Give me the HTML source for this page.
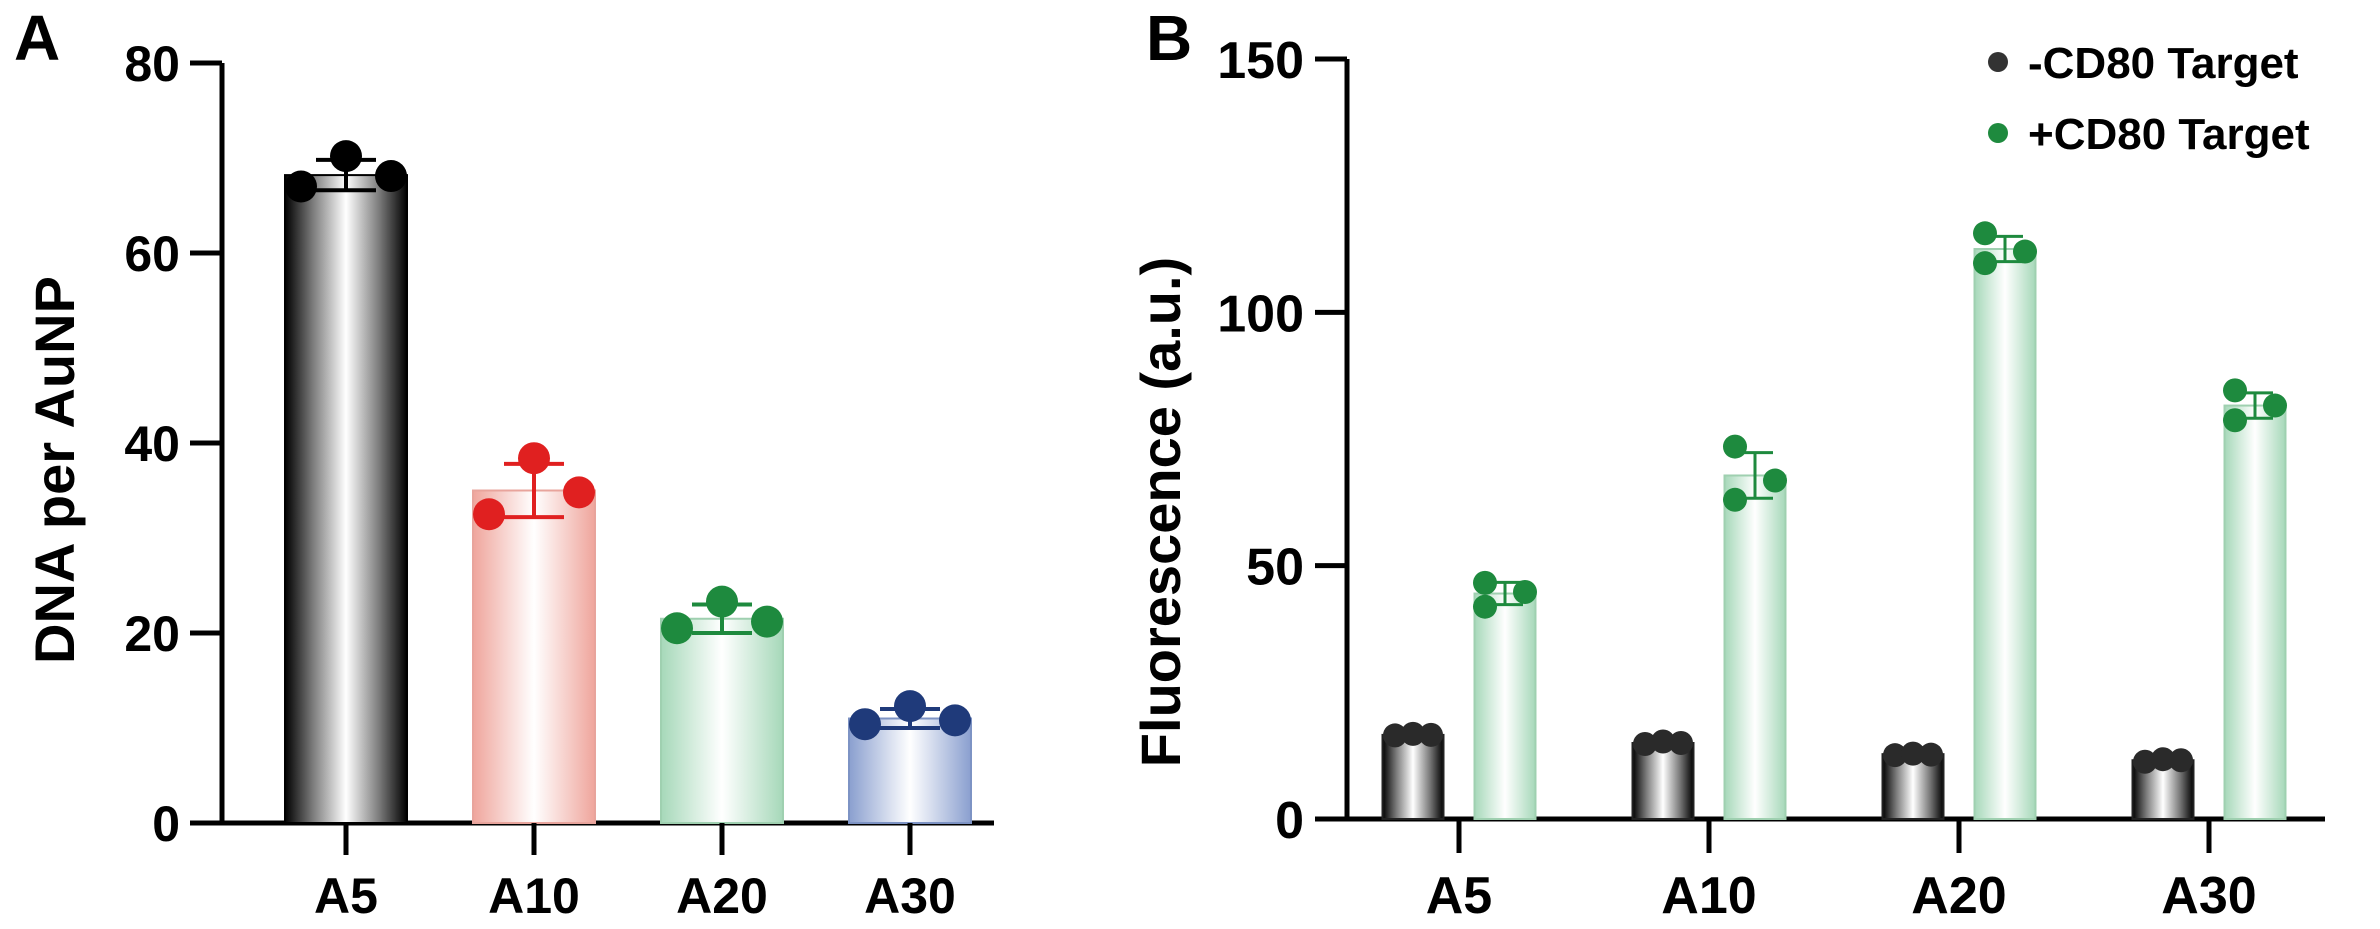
<!DOCTYPE html>
<html><head><meta charset="utf-8"><style>
html,body{margin:0;padding:0;background:#fff;}
svg{display:block;font-family:"Liberation Sans",Arial,sans-serif;font-weight:bold;}
</style></head><body>
<svg id="fig" width="2380" height="929" viewBox="0 0 2380 929" xmlns="http://www.w3.org/2000/svg">
<defs>
<linearGradient id="gBlack" x1="0" x2="1" y1="0" y2="0"><stop offset="0" stop-color="#000"/><stop offset="0.22" stop-color="#777"/><stop offset="0.5" stop-color="#fff"/><stop offset="0.78" stop-color="#777"/><stop offset="1" stop-color="#000"/></linearGradient>
<linearGradient id="gRed" x1="0" x2="1"><stop offset="0" stop-color="#efa59c"/><stop offset="0.5" stop-color="#fff"/><stop offset="1" stop-color="#efa59c"/></linearGradient>
<linearGradient id="gGreen" x1="0" x2="1"><stop offset="0" stop-color="#a6d8b9"/><stop offset="0.5" stop-color="#fff"/><stop offset="1" stop-color="#a6d8b9"/></linearGradient>
<linearGradient id="gBlue" x1="0" x2="1"><stop offset="0" stop-color="#8a9fcf"/><stop offset="0.5" stop-color="#fff"/><stop offset="1" stop-color="#8a9fcf"/></linearGradient>
</defs>
<text x="14" y="60" font-size="64">A</text>
<text x="1146" y="60" font-size="64">B</text>
<text transform="translate(74,470) rotate(-90)" text-anchor="middle" font-size="56">DNA per AuNP</text>
<text transform="translate(1180,512) rotate(-90)" text-anchor="middle" font-size="56">Fluorescence (a.u.)</text>
<g id="A"></g><g id="B"></g>
<g>
<circle cx="1998" cy="62" r="10" fill="#333"/>
<text x="2028" y="78" font-size="44">-CD80 Target</text>
<circle cx="1998" cy="133" r="10" fill="#1e8a3e"/>
<text x="2028" y="149" font-size="44">+CD80 Target</text>
</g>
</svg>
<script>
const catsA = ["A5","A10","A20","A30"];
const meansA = [68.2, 35, 21.5, 11];
const sdA = [1.6, 2.8, 1.5, 1.0];
const ptsA = [[67,70.2,68.1],[32.5,38.4,34.8],[20.5,23.3,21.2],[10.4,12.3,10.8]];
const ticksA = [0,20,40,60,80];
const catsB = ["A5","A10","A20","A30"];
const meansNeg = [16.6, 15, 12.8, 11.6];
const ptsNeg = [[16.5,16.8,16.6],[14.8,15.3,15],[12.6,12.9,12.7],[11.3,11.8,11.6]];
const meansPos = [44.5, 67.8, 112.5, 81.6];
const sdPos = [2.2, 4.5, 2.5, 2.5];
const ptsPos = [[46.6,41.9,44.8],[73.5,63,66.8],[115.6,109.7,112],[84.6,78.7,81.6]];
const ticksB = [0,50,100,150];

const NS="http://www.w3.org/2000/svg";
function mk(parent,tag,attrs){const e=document.createElementNS(NS,tag);for(const k in attrs)e.setAttribute(k,attrs[k]);parent.appendChild(e);return e;}

// Panel A
const gA=document.getElementById('A');
const yA=v=>823-(v/80)*(823-63);
const xA=i=>346+i*188;
const fillsA=["url(#gBlack)","url(#gRed)","url(#gGreen)","url(#gBlue)"];
const strokeA=["#000","#e8a49c","#9fd0b0","#7d93c4"];
const dotA=["#000","#e02020","#1e8a3e","#1f3a7a"];
let ax=mk(gA,'line',{x1:222,y1:63,x2:222,y2:825,stroke:'#000','stroke-width':5});

let axx=mk(gA,'line',{x1:220,y1:823,x2:994,y2:823,stroke:'#000','stroke-width':5});

ticksA.forEach(t=>{
  const l=mk(gA,'line',{x1:190,y1:yA(t),x2:222,y2:yA(t),stroke:'#000','stroke-width':5});
  
  const tx=mk(gA,'text',{x:180,y:yA(t)+18,'text-anchor':'end','font-size':50});tx.textContent=t;
  
});
catsA.forEach((c,i)=>{
  const cx=xA(i),w=122;
  const b=mk(gA,'rect',{x:cx-w/2,y:yA(meansA[i]),width:w,height:823-yA(meansA[i]),fill:fillsA[i],stroke:strokeA[i],'stroke-width':2});
  
  const tk=mk(gA,'line',{x1:cx,y1:823,x2:cx,y2:855,stroke:'#000','stroke-width':5});
  
  const lb=mk(gA,'text',{x:cx,y:913,'text-anchor':'middle','font-size':50});lb.textContent=c;
  
  const col=dotA[i],hi=yA(meansA[i]+sdA[i]),lo=yA(meansA[i]-sdA[i]);
  const eb=mk(gA,'path',{d:`M${cx},${hi}V${lo}M${cx-30},${hi}H${cx+30}M${cx-30},${lo}H${cx+30}`,stroke:col,'stroke-width':4,fill:'none'});
  
  [-45,0,45].forEach((o,j)=>{
    const d=mk(gA,'circle',{cx:cx+o,cy:yA(ptsA[i][j]),r:16,fill:col});
    
  });
});

// Panel B
const gB=document.getElementById('B');
const yB=v=>819-(v/150)*(819-59);
const xB=i=>1459+i*250;
let bx=mk(gB,'line',{x1:1347,y1:59,x2:1347,y2:821,stroke:'#000','stroke-width':5});

let bxx=mk(gB,'line',{x1:1345,y1:819,x2:2325,y2:819,stroke:'#000','stroke-width':5});

ticksB.forEach(t=>{
  const l=mk(gB,'line',{x1:1315,y1:yB(t),x2:1347,y2:yB(t),stroke:'#000','stroke-width':5});
  
  const tx=mk(gB,'text',{x:1304,y:yB(t)+19,'text-anchor':'end','font-size':52});tx.textContent=t;
  
});
catsB.forEach((c,i)=>{
  const gc=xB(i),w=61;
  const nx=gc-46,px=gc+46;
  const bn=mk(gB,'rect',{x:nx-w/2,y:yB(meansNeg[i]),width:w,height:819-yB(meansNeg[i]),fill:'url(#gBlack)',stroke:'#222','stroke-width':2});
  
  const bp=mk(gB,'rect',{x:px-w/2,y:yB(meansPos[i]),width:w,height:819-yB(meansPos[i]),fill:'url(#gGreen)',stroke:'#9fd0b0','stroke-width':2});
  
  const tk=mk(gB,'line',{x1:gc,y1:819,x2:gc,y2:853,stroke:'#000','stroke-width':5});
  
  const lb=mk(gB,'text',{x:gc,y:913,'text-anchor':'middle','font-size':52});lb.textContent=c;
  
  [-18,0,18].forEach((o,j)=>{
    const d=mk(gB,'circle',{cx:nx+o,cy:yB(ptsNeg[i][j]),r:12,fill:'#2a2a2a'});
    
  });
  const hi=yB(meansPos[i]+sdPos[i]),lo=yB(meansPos[i]-sdPos[i]);
  const eb=mk(gB,'path',{d:`M${px},${hi}V${lo}M${px-18},${hi}H${px+18}M${px-18},${lo}H${px+18}`,stroke:'#1e8a3e','stroke-width':3,fill:'none'});
  
  [-20,-20,20].forEach((o,j)=>{
    const d=mk(gB,'circle',{cx:px+o,cy:yB(ptsPos[i][j]),r:12,fill:'#1e8a3e'});
    
  });
});
</script>
</body></html>
